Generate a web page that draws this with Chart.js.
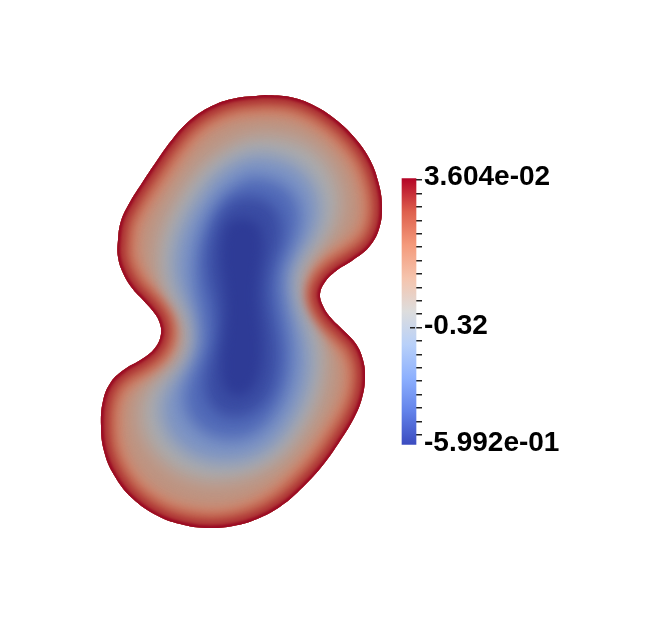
<!DOCTYPE html>
<html>
<head>
<meta charset="utf-8">
<script src="https://cdn.jsdelivr.net/npm/chart.js@4.4.1/dist/chart.umd.min.js"></script>
<style>
	html, body { margin: 0; padding: 0; background: #fff; }
	#wrap { width: 670px; height: 638px; }
</style>
</head>
<body>
<div id="wrap"><canvas id="fieldChart" width="670" height="638"></canvas></div>
<script>
// scalar range of the colour bar
var rangeMin = -0.5992;
var rangeMax = 0.03604;
var barTicks = [0.032, 0, -0.032, -0.064, -0.096, -0.128, -0.16, -0.192, -0.224, -0.256, -0.288, -0.32,
	-0.352, -0.384, -0.416, -0.448, -0.48, -0.512, -0.544, -0.576];
var barLabelValues = [0.03604, -0.32, -0.5992];
var barLabelText = ["3.604e-02", "-0.32", "-5.992e-01"];

// iso-lines of the field (picture units), from the domain edge inwards
var outline = [[265,95],[290,97],[313,105],[335,119],[354,137],[369,158],[378,181],[382,206],[379,229],[369,247],
	[353,260],[336,271],[325,282],[320,294],[323,306],[331,318],[344,331],[356,344],[363,360],[365,378],[362,398],
	[354,418],[340,441],[323,465],[303,487],[281,506],[257,519],[233,526],[209,528],[184,525],[158,516],[132,498],
	[114,475],[104,451],[101,426],[103,401],[111,382],[125,369],[142,359],[155,348],[161,334],[159,321],[152,310],
	[143,300],[132,288],[123,273],[118,257],[118,240],[121,221],[130,202],[142,183],[156,162],[171,141],[188,122],
	[208,108],[232,99],[265,95]];
var contourD = [[262,135],[292,139],[314,150],[330,168],[339,190],[340,212],[333,232],[320,250],[309,266],[305,282],
	[307,297],[313,312],[320,328],[325,346],[326,368],[322,392],[313,415],[299,438],[282,458],[260,472],[236,480],
	[210,482],[185,476],[164,463],[149,445],[141,424],[142,402],[150,386],[163,374],[175,362],[182,347],[182,330],
	[176,314],[168,302],[162,289],[158,273],[157,255],[160,236],[167,217],[178,197],[191,178],[207,161],[225,148],
	[243,139],[262,135]];
var contourE = [[255,154],[283,159],[303,171],[316,190],[320,212],[315,233],[304,251],[295,268],[292,285],[294,300],
	[299,316],[306,334],[310,355],[309,378],[302,402],[290,425],[274,445],[253,458],[230,463],[207,461],[186,452],
	[170,437],[162,418],[162,400],[170,384],[182,370],[191,355],[194,338],[192,320],[185,304],[178,290],[174,274],
	[174,256],[178,237],[187,216],[200,195],[215,176],[234,162],[255,154]];
var contourF = [[250,176],[275,181],[292,193],[300,212],[298,233],[290,253],[283,272],[283,292],[286,312],[290,333],
	[292,356],[289,381],[280,405],[265,426],[245,438],[222,439],[202,431],[188,415],[184,395],[189,377],[197,360],
	[202,342],[201,322],[198,305],[195,288],[194,270],[196,250],[202,229],[213,207],[229,189],[250,176]];
var contourG = [[248,196],[268,202],[280,218],[281,240],[274,262],[270,283],[271,305],[275,328],[278,352],[276,377],
	[267,399],[250,414],[230,417],[213,408],[205,390],[207,368],[213,348],[216,325],[214,303],[209,283],[207,262],
	[210,239],[219,216],[232,201],[248,196]];
var contourH = [[243,218],[258,224],[263,245],[260,270],[258,295],[260,320],[262,345],[260,370],[251,390],[236,396],
	[224,386],[221,362],[224,336],[226,310],[224,285],[221,260],[223,236],[230,222],[243,218]];

// field value carried by each filled iso-line, and by the bands hugging the edge
var fillLevels = [-0.19, -0.285, -0.41, -0.51, -0.567, -0.599];
var edgeLevels = [-0.129, -0.059, -0.008, 0.029];

// cool to warm colour map
var cmapT = [0, 0.125, 0.25, 0.375, 0.5, 0.625, 0.75, 0.875, 1];
var cmapRGB = [[59,76,192],[98,130,234],[141,176,254],[184,208,249],[221,221,221],[245,196,173],[244,154,123],[222,96,77],[180,4,38]];

var fillShade = 0.78;
var edgeShade = 0.84;
var fillBlur = [0, 9, 9, 8, 7, 6];
var edgeWidth = [44, 28, 14, 5];
var edgeBlur = [6, 4, 3, 1.2];
var barCenter = 409;
var barWidth = 14;

function mapColour(v, k){
	var t = (v - rangeMin) / (rangeMax - rangeMin);
	t = Math.max(0, Math.min(1, t));
	var i = 0;
	while (i < cmapT.length - 2 && t > cmapT[i + 1]) i++;
	var f = (t - cmapT[i]) / (cmapT[i + 1] - cmapT[i]);
	var c = [];
	for (var j = 0; j < 3; j++) {
		c.push(Math.round((cmapRGB[i][j] + f * (cmapRGB[i + 1][j] - cmapRGB[i][j])) * k));
	}
	return "rgb(" + c.join(",") + ")";
}

function toPoints(arr){
	return arr.map(function(p){ return {x: p[0], y: p[1]}; });
}

function isLabelOnly(v){
	return Math.abs(v - barLabelValues[0]) < 1e-6 || Math.abs(v - barLabelValues[2]) < 1e-6;
}

var contours = [outline, contourD, contourE, contourF, contourG, contourH];
var datasets = [];
var drawStep = 0;

function addFill(i){
	datasets.push({
		data: toPoints(contours[i]),
		shapeFill: mapColour(fillLevels[i], fillShade),
		blur: fillBlur[i],
		clipOuter: i > 0,
		borderWidth: 0,
		borderColor: "rgba(0,0,0,0)",
		tension: 0.4,
		pointRadius: 0,
		order: 100 - drawStep++
	});
}

function addEdge(i){
	datasets.push({
		data: toPoints(outline),
		blur: edgeBlur[i],
		clipOuter: true,
		borderWidth: edgeWidth[i],
		borderColor: mapColour(edgeLevels[i], edgeShade),
		borderJoinStyle: "round",
		tension: 0.4,
		pointRadius: 0,
		order: 100 - drawStep++
	});
}

addFill(0);
addEdge(0);
addFill(1);
addFill(2);
addFill(3);
addFill(4);
addFill(5);
addEdge(1);
addEdge(2);
addEdge(3);

// colour bar
datasets.push({
	type: "bar",
	data: [{x: barCenter, y: [rangeMin, rangeMax]}],
	yAxisID: "y2",
	barThickness: barWidth,
	borderWidth: 0,
	clip: false,
	order: 0,
	backgroundColor: function(c){
		var chart = c.chart;
		var s = chart.scales.y2;
		if (!s || !chart.chartArea) return "#ddd";
		var g = chart.ctx.createLinearGradient(0, s.getPixelForValue(rangeMin), 0, s.getPixelForValue(rangeMax));
		for (var i = 0; i < cmapT.length; i++) {
			g.addColorStop(cmapT[i], "rgb(" + cmapRGB[i].join(",") + ")");
		}
		return g;
	}
});

function outerPath(chart, ctx){
	var meta = chart.getDatasetMeta(0);
	meta.dataset.updateControlPoints(chart.chartArea, meta.iAxis);
	ctx.beginPath();
	meta.dataset.path(ctx);
	ctx.closePath();
}

var fieldPlugin = {
	id: "field",
	beforeDatasetDraw: function(chart, args){
		var ds = chart.data.datasets[args.index];
		if (ds.blur === undefined) return;
		var ctx = chart.ctx;
		ctx.save();
		if (ds.clipOuter) {
			outerPath(chart, ctx);
			ctx.clip();
		}
		if (ds.blur > 0) ctx.filter = "blur(" + ds.blur + "px)";
		if (ds.shapeFill) {
			var line = args.meta.dataset;
			line.updateControlPoints(chart.chartArea, args.meta.iAxis);
			ctx.beginPath();
			line.path(ctx);
			ctx.closePath();
			ctx.fillStyle = ds.shapeFill;
			ctx.fill();
		}
	},
	afterDatasetDraw: function(chart, args){
		var ds = chart.data.datasets[args.index];
		if (ds.blur === undefined) return;
		chart.ctx.restore();
	},
	afterDraw: function(chart){
		// the labelled middle tick reaches into the bar
		var s = chart.scales.y2;
		var ctx = chart.ctx;
		var y = Math.round(s.getPixelForValue(barLabelValues[1]) - 0.75) + 0.75;
		ctx.save();
		ctx.strokeStyle = "#222";
		ctx.lineWidth = 1.5;
		ctx.beginPath();
		ctx.moveTo(s.left - 4, y);
		ctx.lineTo(s.left + 1, y);
		ctx.stroke();
		ctx.restore();
	}
};

// y2 limits so the bar runs from 178.5px to 444.5px on the 638px canvas
var pxPerUnit = (444.5 - 178.5) / (rangeMax - rangeMin);

var config = {
	type: "line",
	data: { datasets: datasets },
	plugins: [fieldPlugin],
	options: {
		responsive: false,
		animation: false,
		events: [],
		layout: { padding: 0, autoPadding: false },
		plugins: {
			legend: { display: false },
			tooltip: { enabled: false }
		},
		scales: {
			x: { type: "linear", min: 0, max: 414, offset: false, grid: { offset: false }, display: false },
			y: { type: "linear", min: 0, max: 638, reverse: true, display: false },
			y2: {
				type: "linear",
				position: "right",
				min: rangeMin - (638 - 444.5) / pxPerUnit,
				max: rangeMax + 178.5 / pxPerUnit,
				afterBuildTicks: function(scale){
					var t = barTicks.concat([barLabelValues[0], barLabelValues[2]]);
					scale.ticks = t.map(function(v){ return {value: v}; });
				},
				afterFit: function(scale){
					scale.width = 670 - 414;
					scale.paddingTop = 0;
					scale.paddingBottom = 0;
				},
				border: { display: false },
				grid: {
					drawOnChartArea: false,
					drawTicks: true,
					tickLength: 8,
					lineWidth: 1.5,
					color: function(c){
						if (c.tick && isLabelOnly(c.tick.value)) return "rgba(0,0,0,0)";
						return "#222";
					}
				},
				ticks: {
					autoSkip: false,
					padding: 2,
					labelOffset: -1,
					color: "#000",
					font: { family: "'Liberation Sans', Arial, sans-serif", size: 28, weight: "bold" },
					callback: function(value){
						for (var i = 0; i < barLabelValues.length; i++) {
							if (Math.abs(value - barLabelValues[i]) < 1e-6) return barLabelText[i];
						}
						return "";
					}
				}
			}
		}
	}
};

var fieldChart = new Chart(document.getElementById("fieldChart"), config);
</script>
</body>
</html>
